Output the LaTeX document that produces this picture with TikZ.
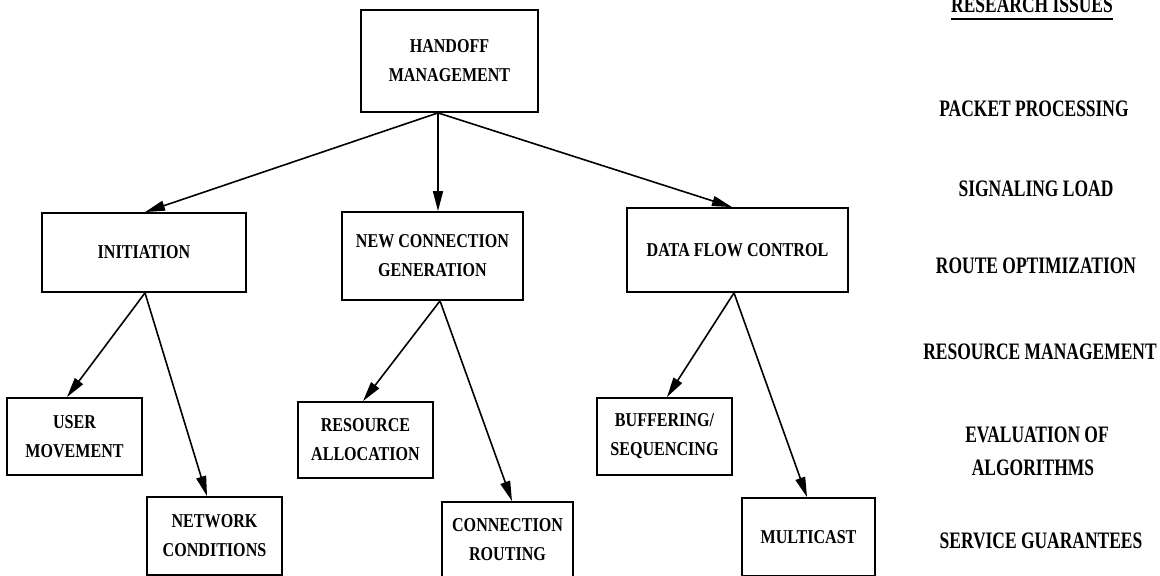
\documentclass[tikz,border=0pt]{standalone}
\usepackage{fontspec}
\newfontfamily\boxfont{Liberation Serif}[FakeStretch=0.82]
\newfontfamily\sidefont{Liberation Serif}[FakeStretch=0.74]
\usetikzlibrary{arrows.meta,calc}
\begin{document}
\begin{tikzpicture}[x=0.5pt,y=-0.5pt,
  bx/.style={draw, line width=0.9pt, inner sep=0pt, align=center,
    font={\boxfont\bfseries\fontsize{9.8pt}{14.5pt}\selectfont}},
  side/.style={inner sep=0pt, anchor=base,
    font={\sidefont\bfseries\fontsize{11.8pt}{14pt}\selectfont}},
  arr/.style={line width=0.8pt, -{Triangle[length=10pt,width=5pt]}}]
\useasboundingbox (0,0) rectangle (1160,576);

\node[bx, minimum width=88.5pt, minimum height=51pt] (hm) at (449.5,61) {HANDOFF\\MANAGEMENT};
\node[bx, minimum width=102pt, minimum height=39.5pt] (init) at (144,252.5) {INITIATION};
\node[bx, minimum width=90.5pt, minimum height=44pt] (ncg) at (432.5,256) {NEW CONNECTION\\GENERATION};
\node[bx, minimum width=110.5pt, minimum height=42pt] (dfc) at (737.5,250) {DATA FLOW CONTROL};
\node[bx, minimum width=67.5pt, minimum height=38.5pt] (um) at (74.5,436.5) {USER\\MOVEMENT};
\node[bx, minimum width=67.5pt, minimum height=39pt] (nc) at (214.5,536) {NETWORK\\CONDITIONS};
\node[bx, minimum width=67.5pt, minimum height=38pt] (ra) at (365.5,440) {RESOURCE\\ALLOCATION};
\node[bx, minimum width=65.5pt, minimum height=37.5pt] (cr) at (507.5,539.5) {CONNECTION\\ROUTING};
\node[bx, minimum width=67.5pt, minimum height=38.5pt] (bs) at (664.5,436.5) {BUFFERING/\\SEQUENCING};
\node[bx, minimum width=66.5pt, minimum height=39pt] (mc) at (808.5,537) {MULTICAST};

\draw[arr] ($(hm.south)+(-11.5,0)$) -- ($(init.north)+(1,0)$);
\draw[arr] ($(hm.south)+(-11.5,0)$) -- ($(ncg.north)+(5.5,0)$);
\draw[arr] ($(hm.south)+(-11.5,0)$) -- ($(dfc.north)+(-5.5,0)$);
\draw[arr] ($(init.south)+(1,0)$) -- ($(um.north)+(-7.5,0)$);
\draw[arr] ($(init.south)+(1,0)$) -- ($(nc.north)+(-7.5,0)$);
\draw[arr] ($(ncg.south)+(7.5,0)$) -- ($(ra.north)+(-2.5,0)$);
\draw[arr] ($(ncg.south)+(7.5,0)$) -- ($(cr.north)+(4.5,0)$);
\draw[arr] ($(dfc.south)+(-3.5,0)$) -- ($(bs.north)+(2.5,0)$);
\draw[arr] ($(dfc.south)+(-3.5,0)$) -- ($(mc.north)+(-1.5,0)$);

\node[side] (ri) at (1032,13) {RESEARCH ISSUES};
\draw[line width=0.8pt] ($(ri.base west)+(0,6)$) -- ($(ri.base east)+(0,6)$);
\node[side] (pp) at (1034,117) {PACKET PROCESSING};
\node[side] (sl) at (1036,197) {SIGNALING LOAD};
\node[side] (ro) at (1036,274) {ROUTE OPTIMIZATION};
\node[side] (rm) at (1040,360) {RESOURCE MANAGEMENT};
\node[side] (ev1) at (1037,443) {EVALUATION OF};
\node[side] (ev2) at (1033,475) {ALGORITHMS};
\node[side] (sg) at (1041,548) {SERVICE GUARANTEES};
\end{tikzpicture}
\end{document}
